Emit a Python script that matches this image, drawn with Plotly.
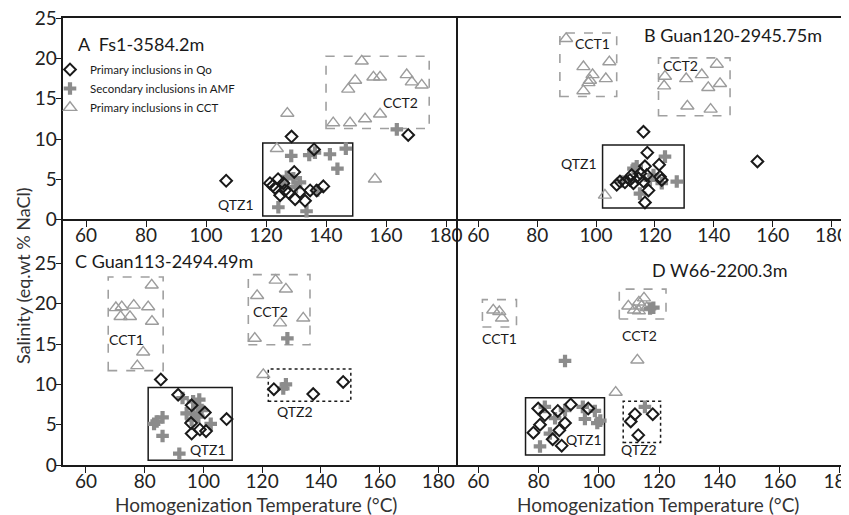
import plotly.graph_objects as go

# ---------------- data ----------------
# Panel A  Fs1-3584.2m
a_qo_t = [106.7, 128.5, 167.4, 136.0, 121.3, 123.0, 129.4, 139.1, 133.0, 129.7, 126.3, 124.7, 125.8, 131.3, 134.7, 136.9, 124.0, 122.3, 127.5]
a_qo_s = [4.8, 10.3, 10.5, 8.7, 4.5, 3.9, 5.9, 4.1, 2.3, 2.5, 3.6, 3.0, 4.5, 3.4, 3.6, 3.6, 5.0, 4.2, 3.3]
a_amf_t = [163.6, 128.4, 134.4, 136.3, 141.3, 146.6, 143.8, 124.1, 133.5, 137.1, 126.9, 129.1, 131.3, 125.8, 130.0]
a_amf_s = [11.2, 7.9, 8.0, 8.3, 8.1, 8.8, 6.3, 1.5, 1.0, 3.6, 5.3, 5.1, 4.6, 4.3, 4.0]
a_cct_t = [127.1, 123.6, 156.3, 151.9, 149.7, 147.4, 155.8, 158.0, 166.9, 168.6, 171.9, 142.4, 148.0, 153.0, 158.0]
a_cct_s = [13.2, 8.8, 5.0, 19.7, 17.3, 16.2, 17.7, 17.7, 18.0, 17.1, 16.7, 12.0, 12.0, 12.5, 13.1]

# Panel B  Guan120-2945.75m
b_qo_t = [116.1, 117.4, 154.8, 121.4, 116.6, 121.7, 117.2, 117.8, 116.6, 107.0, 108.1, 112.1, 112.7, 114.4, 115.0, 111.5, 109.8, 116.1, 122.3]
b_qo_s = [10.9, 8.3, 7.2, 6.8, 6.6, 5.3, 5.5, 3.6, 2.1, 4.3, 4.7, 5.5, 4.5, 5.1, 5.7, 4.9, 4.6, 4.7, 4.9]
b_amf_t = [123.4, 127.4, 122.3, 114.9, 112.7, 113.8, 108.7, 118.3, 119.5]
b_amf_s = [7.8, 4.7, 4.5, 3.2, 6.3, 6.6, 4.7, 4.9, 5.5]
b_cct_t = [89.8, 95.7, 104.5, 98.8, 97.9, 97.4, 103.3, 95.7, 123.4, 130.6, 141.0, 135.9, 138.1, 142.1, 123.1, 131.0, 138.9, 103.0]
b_cct_s = [22.5, 19.0, 19.6, 18.0, 17.3, 17.0, 17.5, 16.0, 17.8, 17.5, 19.3, 18.0, 16.4, 16.9, 16.6, 14.1, 13.7, 3.0]

# Panel C  Guan113-2494.49m
c_qo_t = [85.5, 91.4, 96.0, 100.5, 107.9, 95.8, 96.0, 98.8, 100.9, 147.6, 124.0, 137.4]
c_qo_s = [10.6, 8.7, 7.4, 6.5, 5.7, 5.2, 3.9, 4.4, 4.2, 10.3, 9.4, 8.8]
c_amf_t = [128.6, 128.1, 127.2, 92.9, 96.5, 98.6, 86.1, 84.1, 83.2, 86.1, 91.8, 102.5, 94.3, 96.5, 98.3, 96.0, 99.4, 98.2]
c_amf_s = [15.7, 10.0, 9.5, 8.3, 7.9, 8.1, 5.9, 5.4, 5.1, 3.6, 1.4, 5.1, 6.4, 6.4, 6.0, 5.6, 6.8, 7.2]
c_cct_t = [82.4, 70.2, 72.2, 76.3, 81.2, 71.8, 75.0, 82.5, 79.5, 77.5, 124.6, 128.1, 118.3, 134.0, 126.1, 117.5, 120.4]
c_cct_s = [22.3, 19.5, 19.6, 19.8, 19.6, 18.4, 18.4, 17.8, 14.0, 12.3, 22.9, 21.8, 21.0, 18.2, 17.6, 15.7, 11.2]

# Panel D  W66-2200.3m
d_qo_t = [79.9, 82.1, 86.4, 90.7, 96.5, 80.5, 78.3, 88.8, 86.9, 84.7, 87.7, 112.0, 117.9, 110.6, 113.1]
d_qo_s = [7.0, 6.2, 6.7, 7.5, 7.0, 5.0, 4.0, 5.2, 4.3, 3.2, 2.4, 6.3, 6.3, 5.4, 3.7]
d_amf_t = [88.8, 82.1, 94.7, 98.7, 95.4, 99.5, 83.8, 80.5, 115.3, 85.5, 88.8, 117.0, 118.1, 100.5]
d_amf_s = [12.9, 7.2, 7.2, 6.7, 5.7, 5.2, 3.9, 2.3, 7.2, 5.8, 6.8, 19.4, 19.5, 5.5]
d_cct_t = [65.0, 67.0, 67.9, 109.8, 113.3, 115.0, 111.7, 113.3, 115.9, 114.2, 112.8, 105.6]
d_cct_s = [19.2, 19.0, 18.2, 19.7, 20.2, 20.7, 19.2, 19.1, 19.5, 19.7, 13.0, 9.0]

series_names = ["Primary inclusions in Qo", "Secondary inclusions in AMF", "Primary inclusions in CCT"]
x_ticks = [60, 80, 100, 120, 140, 160, 180]
y_ticks = [0, 5, 10, 15, 20, 25]

# group boxes: (panel, kind, t0, t1, s0, s1)
boxes = [
    ("A", "QTZ1", 118.9, 148.9, 0.4, 9.5),
    ("A", "CCT", 140.0, 174.4, 11.3, 20.3),
    ("B", "CCT", 87.7, 107.0, 15.3, 23.2),
    ("B", "CCT", 121.2, 145.5, 12.9, 20.1),
    ("B", "QTZ1", 102.2, 129.9, 1.4, 9.25),
    ("C", "CCT", 67.6, 86.3, 11.7, 23.3),
    ("C", "CCT", 115.3, 136.3, 14.9, 23.6),
    ("C", "QTZ1", 81.2, 109.8, 0.6, 9.6),
    ("C", "QTZ2", 122.1, 150.2, 7.9, 11.9),
    ("D", "CCT", 61.4, 72.7, 17.1, 20.5),
    ("D", "CCT", 106.8, 122.3, 18.1, 21.8),
    ("D", "QTZ1", 75.7, 101.9, 1.24, 8.35),
    ("D", "QTZ2", 108.1, 120.5, 2.8, 7.9),
]

# ---------------- figure ----------------
PAGE_W, PAGE_H = 849, 515
OFF = 8  # default page body margin
W, H = PAGE_W - OFF, PAGE_H - OFF

def px(v):
    return (v - OFF) / W

def py(v):
    return 1 - (v - OFF) / H

FONT = "Lato, Calibri, Carlito, sans-serif"
INK = "#1a1a1a"
TRI = "#9c9c9c"
CRS = "#8c8c8c"

axes = {"A": ("x", "y"), "B": ("x2", "y2"), "C": ("x3", "y3"), "D": ("x4", "y4")}
data = {
    "A": (a_qo_t, a_qo_s, a_amf_t, a_amf_s, a_cct_t, a_cct_s),
    "B": (b_qo_t, b_qo_s, b_amf_t, b_amf_s, b_cct_t, b_cct_s),
    "C": (c_qo_t, c_qo_s, c_amf_t, c_amf_s, c_cct_t, c_cct_s),
    "D": (d_qo_t, d_qo_s, d_amf_t, d_amf_s, d_cct_t, d_cct_s),
}

fig = go.Figure()
for p, (qt, qs, mt, ms, ct, cs) in data.items():
    xa, ya = axes[p]
    leg = p == "A"
    fig.add_trace(go.Scatter(x=ct, y=cs, mode="markers", xaxis=xa, yaxis=ya,
                             name=series_names[2], showlegend=leg, legendrank=3,
                             marker=dict(symbol="triangle-up-open", size=11.5, color=TRI,
                                         line=dict(width=1.4, color=TRI))))
    fig.add_trace(go.Scatter(x=mt, y=ms, mode="markers", xaxis=xa, yaxis=ya,
                             name=series_names[1], showlegend=leg, legendrank=2,
                             marker=dict(symbol="cross", size=10.5, color=CRS,
                                         line=dict(width=0))))
    fig.add_trace(go.Scatter(x=qt, y=qs, mode="markers", xaxis=xa, yaxis=ya,
                             name=series_names[0], showlegend=leg, legendrank=1,
                             marker=dict(symbol="diamond-open", size=9, color=INK,
                                         line=dict(width=2, color=INK))))

box_style = {
    "QTZ1": dict(color=INK, width=1.5, dash="solid"),
    "QTZ2": dict(color=INK, width=1.5, dash="dot"),
    "CCT": dict(color="#a0a0a0", width=1.6, dash="dash"),
}
for p, kind, t0, t1, s0, s1 in boxes:
    xa, ya = axes[p]
    fig.add_shape(type="rect", xref=xa, yref=ya, x0=t0, x1=t1, y0=s0, y1=s1,
                  line=box_style[kind], fillcolor="rgba(0,0,0,0)", layer="below")

labels = [
    ("A", "A  Fs1-3584.2m", 56.5, 21.8, "left", 18),
    ("A", "QTZ1", 110, 1.9, "center", 14),
    ("A", "CCT2", 164.7, 14.6, "center", 14),
    ("B", "B Guan120-2945.75m", 146.6, 22.9, "center", 18),
    ("B", "CCT1", 98.8, 21.9, "center", 14),
    ("B", "CCT2", 128.7, 19.1, "center", 14),
    ("B", "QTZ1", 94.3, 7.0, "center", 14),
    ("C", "C Guan113-2494.49m", 55.5, 25.3, "left", 18),
    ("C", "CCT1", 73.9, 15.5, "center", 14),
    ("C", "CCT2", 122.9, 19.0, "center", 14),
    ("C", "QTZ1", 101.7, 1.9, "center", 14),
    ("C", "QTZ2", 131.2, 6.6, "center", 14),
    ("D", "D W66-2200.3m", 140.2, 24.2, "center", 18),
    ("D", "CCT1", 67.2, 15.7, "center", 14),
    ("D", "CCT2", 113.4, 16.0, "center", 14),
    ("D", "QTZ1", 95.1, 3.1, "center", 14),
    ("D", "QTZ2", 113.4, 1.9, "center", 14),
]
for p, txt, x, y, anc, fs in labels:
    xa, ya = axes[p]
    fig.add_annotation(x=x, y=y, xref=xa, yref=ya, text=txt, showarrow=False,
                       xanchor=anc, yanchor="middle", font=dict(size=fs, color=INK, family=FONT))

fig.add_annotation(x=px(23), y=py(276), xref="paper", yref="paper", text="Salinity (eq.wt % NaCl)",
                   xanchor="center", yanchor="middle",
                   textangle=-90, showarrow=False, font=dict(size=18, color="#333", family=FONT))
for cx in (256, 658):
    fig.add_annotation(x=px(cx), y=py(504), xref="paper", yref="paper",
                       text="Homogenization Temperature (°C)", xanchor="center", yanchor="middle",
                       showarrow=False, font=dict(size=19, color="#333", family=FONT))

L, M, R = px(63.3), px(458.3), 1.0
Y0, YM, YT = py(465), py(219.3), py(18.3)
LW = 1.5
TICKFONT = dict(size=19, color="#222", family=FONT)

def xax(dom, rng, anchor, mirror):
    return dict(domain=dom, range=rng, anchor=anchor, showline=True, linecolor=INK, linewidth=LW,
                mirror=mirror, ticks="outside", ticklen=6, tickwidth=1.3, tickcolor=INK,
                tickvals=x_ticks, showgrid=False, zeroline=False, automargin=False,
                ticklabelstandoff=-8, ticklabeloverflow="allow", tickfont=TICKFONT)

def yax(dom, rng, anchor, labels_on):
    d = dict(domain=dom, range=rng, anchor=anchor, showline=True, linecolor=INK, linewidth=LW,
             mirror=False, showgrid=False, zeroline=False, tickvals=y_ticks, automargin=False,
             tickfont=TICKFONT)
    if labels_on:
        d.update(ticks="outside", ticklen=6, tickwidth=1.3, tickcolor=INK, showticklabels=True,
                 ticklabelstandoff=-5, ticklabeloverflow="allow")
    else:
        d.update(ticks="", showticklabels=False)
    return d

fig.update_layout(
    width=W, height=H, margin=dict(l=0, r=0, t=0, b=0, autoexpand=False),
    paper_bgcolor="white", plot_bgcolor="white",
    font=dict(family=FONT, color=INK),
    xaxis=xax([L, M], [52.4, 184.1], "y", True),
    yaxis=yax([YM, YT], [0, 25.03], "x", True),
    xaxis2=xax([M, R], [53.2, 185.9], "y2", True),
    yaxis2=yax([YM, YT], [0, 25.03], "x2", False),
    xaxis3=xax([L, M], [52.3, 186.8], "y3", False),
    yaxis3=yax([Y0, YM], [0, 30.46], "x3", True),
    xaxis4=xax([M, R], [53.4, 183.0], "y4", False),
    yaxis4=yax([Y0, YM], [0, 30.46], "x4", False),
    legend=dict(x=px(50), y=py(55), xanchor="left", yanchor="top", bgcolor="rgba(0,0,0,0)",
                font=dict(size=11.5, color=INK, family=FONT), itemwidth=30,
                tracegroupgap=0),
)

fig.write_html("out.html")
